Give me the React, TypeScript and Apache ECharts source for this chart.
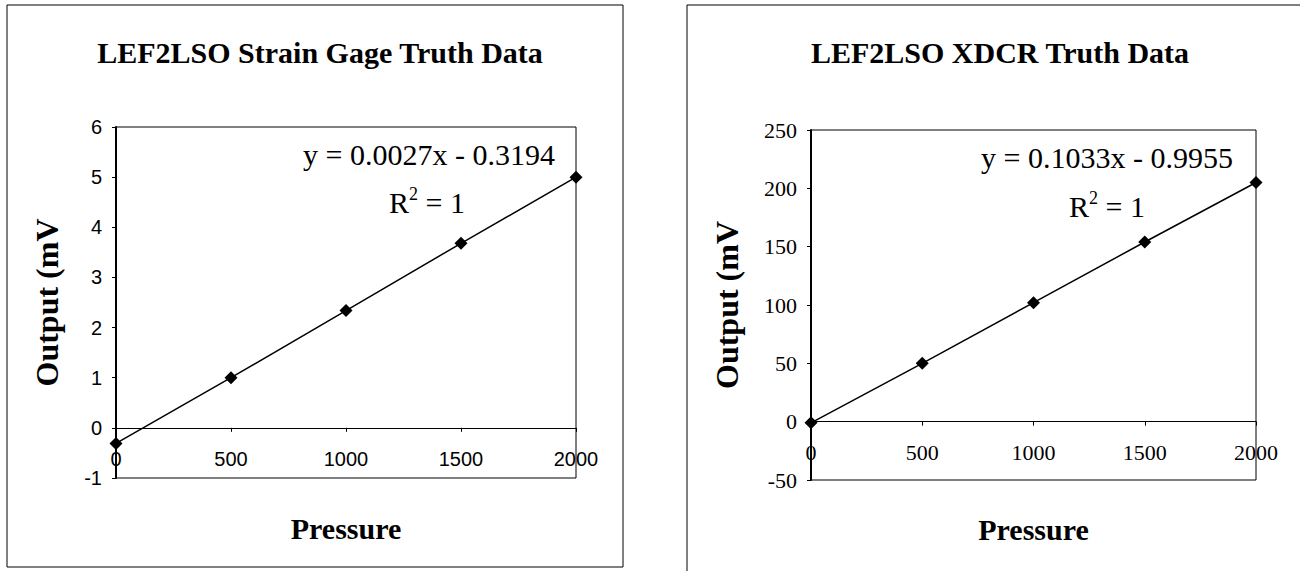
import React, { useEffect, useRef } from "react";
import * as echarts from "echarts";

const pressureValues = [0, 500, 1000, 1500, 2000];
const strainOutput = [-0.31, 1.0, 2.34, 3.68, 5.0];
const xdcrOutput = [-1, 50, 102, 154, 205];

const strainTitle = "LEF2LSO Strain Gage Truth Data";
const xdcrTitle = "LEF2LSO XDCR Truth Data";
const strainEquation = "y = 0.0027x - 0.3194";
const xdcrEquation = "y = 0.1033x - 0.9955";
const yAxisTitle = "Output (mV";
const xAxisTitle = "Pressure";

const SERIF = '"Liberation Serif", "Times New Roman", serif';
const SANS = '"Liberation Sans", Arial, sans-serif';

export default function App() {
  const ref = useRef<HTMLDivElement>(null);
  useEffect(() => {
    if (!ref.current) return;
    const chart = echarts.init(ref.current, undefined, { renderer: "svg" });

    const titleStyle = { fontFamily: SERIF, fontWeight: "bold", fontSize: 30, color: "#000" };
    const axisNameStyle = { fontFamily: SERIF, fontWeight: "bold", fontSize: 30, color: "#000" };
    const plain = (v: number) => String(v);

    // bottom axis: tick labels (drawn just under the zero line) + axis title
    const makeXLabels = (gridIndex: number, font: string, size: number, margin: number, nameGap: number) => ({
      type: "value",
      gridIndex,
      position: "bottom",
      min: 0,
      max: 2000,
      interval: 500,
      name: xAxisTitle,
      nameLocation: "middle",
      nameGap,
      nameTextStyle: axisNameStyle,
      axisLine: { show: false, onZero: false },
      axisTick: { show: false },
      axisLabel: { color: "#000", fontFamily: font, fontSize: size, margin, formatter: plain },
      splitLine: { show: false },
    });

    // zero-line axis: line + ticks crossing at y = 0
    const makeXZero = (gridIndex: number) => ({
      type: "value",
      gridIndex,
      position: "top",
      min: 0,
      max: 2000,
      interval: 500,
      axisLine: { show: true, onZero: true, lineStyle: { color: "#000", width: 1 } },
      axisTick: { show: true, inside: true, length: 4, lineStyle: { color: "#000" } },
      axisLabel: { show: false },
      splitLine: { show: false },
    });

    const makeY = (gridIndex: number, min: number, max: number, interval: number, font: string, size: number, nameGap: number) => ({
      type: "value",
      gridIndex,
      min,
      max,
      interval,
      name: yAxisTitle,
      nameLocation: "middle",
      nameRotate: 90,
      nameGap,
      nameTextStyle: { ...axisNameStyle, fontSize: 32 },
      axisLine: { show: true, onZero: false, lineStyle: { color: "#000", width: 2 } },
      axisTick: { show: true, length: 4, lineStyle: { color: "#000" } },
      axisLabel: { color: "#000", fontFamily: font, fontSize: size, margin: 14, formatter: plain },
      splitLine: { show: false },
    });

    const r2 = (x: number, y: number) => ({
      type: "text",
      x,
      y,
      style: {
        text: "{r|R}{s|2}{r| = 1}",
        align: "center",
        verticalAlign: "middle",
        rich: {
          r: { fontFamily: SERIF, fontSize: 30, color: "#000", lineHeight: 34 },
          s: { fontFamily: SERIF, fontSize: 18, color: "#000", verticalAlign: "top", lineHeight: 34 },
        },
      },
    });

    chart.setOption({
      animation: false,
      backgroundColor: "#fff",
      title: [
        { text: strainTitle, left: 315, top: 32, textAlign: "center", textStyle: titleStyle },
        { text: xdcrTitle, left: 995, top: 32, textAlign: "center", textStyle: titleStyle },
      ],
      grid: [
        { left: 116, top: 127, width: 460, height: 351, show: true, borderColor: "#000", borderWidth: 1, backgroundColor: "transparent" },
        { left: 811, top: 130, width: 445, height: 350, show: true, borderColor: "#000", borderWidth: 1, backgroundColor: "transparent" },
      ],
      xAxis: [
        makeXLabels(0, SANS, 20, -29, 35),
        makeXZero(0),
        makeXLabels(1, SERIF, 22, -39, 34),
        makeXZero(1),
      ],
      yAxis: [makeY(0, -1, 6, 1, SANS, 20, 53), makeY(1, -50, 250, 50, SERIF, 22, 68)],
      series: [
        {
          type: "line",
          xAxisIndex: 0,
          yAxisIndex: 0,
          data: pressureValues.map((x, i) => [x, strainOutput[i]]),
          symbol: "diamond",
          symbolSize: 13,
          lineStyle: { color: "#000", width: 1.5 },
          itemStyle: { color: "#000" },
          z: 5,
        },
        {
          type: "line",
          xAxisIndex: 2,
          yAxisIndex: 1,
          data: pressureValues.map((x, i) => [x, xdcrOutput[i]]),
          symbol: "diamond",
          symbolSize: 13,
          lineStyle: { color: "#000", width: 1.5 },
          itemStyle: { color: "#000" },
          z: 5,
        },
      ],
      graphic: [
        { type: "rect", shape: { x: 7, y: 5, width: 616, height: 562 }, style: { fill: "none", stroke: "#000", lineWidth: 1 } },
        { type: "rect", shape: { x: 687, y: 5, width: 700, height: 700 }, style: { fill: "none", stroke: "#000", lineWidth: 1 } },
        {
          type: "text",
          x: 429,
          y: 154,
          style: { text: strainEquation, align: "center", verticalAlign: "middle", font: `30px ${SERIF}`, fill: "#000" },
        },
        r2(427, 202),
        {
          type: "text",
          x: 1107,
          y: 157,
          style: { text: xdcrEquation, align: "center", verticalAlign: "middle", font: `30px ${SERIF}`, fill: "#000" },
        },
        r2(1107, 206),
      ],
    });
    return () => chart.dispose();
  }, []);
  return <div ref={ref} style={{ position: "fixed", left: 0, top: 0, width: 1300, height: 571 }} />;
}
